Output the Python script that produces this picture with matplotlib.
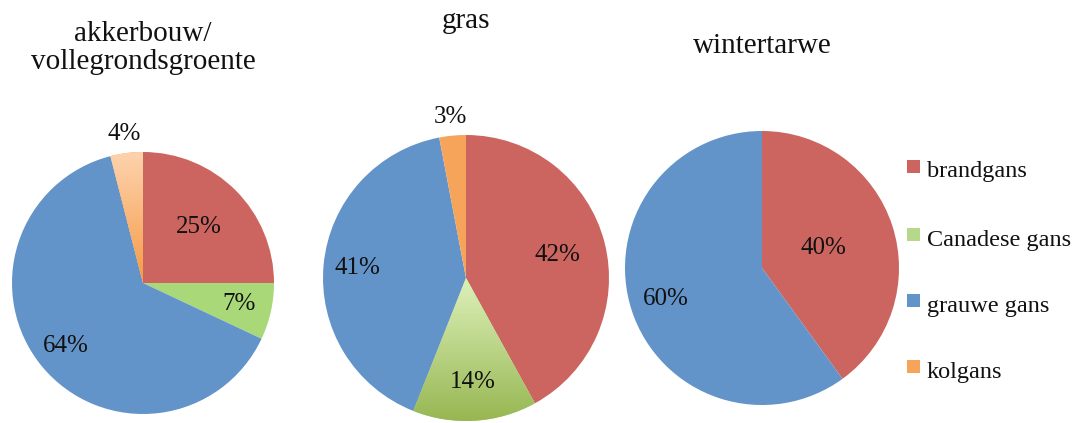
import matplotlib.pyplot as plt
import numpy as np
from matplotlib.colors import LinearSegmentedColormap
from matplotlib.patches import Rectangle

# data
soorten = ['brandgans', 'Canadese gans', 'grauwe gans', 'kolgans']
titels = ['akkerbouw/\nvollegrondsgroente', 'gras', 'wintertarwe']
akkerbouw = [25, 7, 64, 4]
gras = [42, 14, 41, 3]
wintertarwe = [40, 0, 60, 0]

kleuren = ['#CC6560', '#A9D878', '#6394C9', '#F6A45A']

W, H = 1082, 423
fig = plt.figure(figsize=(W / 100, H / 100), dpi=100)
plt.rcParams['font.family'] = ['Liberation Serif', 'DejaVu Serif']

# pie centre (px), radius (px), label distance per wedge, title y (px)
layout = [
    dict(c=(143, 283), r=131, ld=[0.6, 0.75, 0.76, 1.15], ty=48),
    dict(c=(466, 278), r=143, ld=[0.66, 0.73, 0.76, 1.13], ty=21),
    dict(c=(762, 268), r=137, ld=[0.47, 0.7, 0.74, 1.1], ty=46),
]
# gradient for wedges (top colour, bottom colour), keyed by (pie, wedge)
gradients = {(0, 3): ('#FDD3AE', '#F59A45'), (1, 1): ('#DDF1BA', '#97B752')}


def grad_fill(ax, wedge, top, bottom):
    cmap = LinearSegmentedColormap.from_list('g', [bottom, top])
    ext = wedge.get_path().get_extents(wedge.get_patch_transform())
    g = np.linspace(0, 1, 256).reshape(-1, 1)
    im = ax.imshow(g, cmap=cmap, origin='lower',
                   extent=[ext.x0, ext.x1, ext.y0, ext.y1],
                   aspect='auto', zorder=wedge.get_zorder() + 0.1)
    im.set_clip_path(wedge)


for i, (vals, titel, lay) in enumerate(zip([akkerbouw, gras, wintertarwe], titels, layout)):
    cx, cy = lay['c']
    r = lay['r']
    ax = fig.add_axes([(cx - r) / W, 1 - (cy + r) / H, 2 * r / W, 2 * r / H])
    wedges, _ = ax.pie(vals, colors=kleuren, startangle=90, counterclock=False,
                       radius=1, wedgeprops=dict(linewidth=0))
    total = sum(vals)
    for j, (w, v) in enumerate(zip(wedges, vals)):
        if v == 0:
            continue
        if (i, j) in gradients:
            grad_fill(ax, w, *gradients[(i, j)])
        ang = np.deg2rad((w.theta1 + w.theta2) / 2)
        d = lay['ld'][j]
        ax.text(d * np.cos(ang), d * np.sin(ang), f'{round(100 * v / total)}%',
                ha='center', va='center', fontsize=18, color='#111111',
                zorder=5, clip_on=False)
    ax.set_xlim(-1, 1)
    ax.set_ylim(-1, 1)
    ax.axis('off')
    fig.text(cx / W, 1 - lay['ty'] / H, titel, ha='center', va='center',
             fontsize=21, linespacing=1.1, color='#111111')

# legend
leg_y = [172, 240, 306, 372]
for j, (naam, y) in enumerate(zip(soorten, leg_y)):
    fig.patches.append(Rectangle((907 / W, 1 - (y + 1) / H), 13 / W, 13 / H,
                                 transform=fig.transFigure, figure=fig,
                                 facecolor=kleuren[j] if j != 1 else '#B5D88A',
                                 edgecolor='none'))
    fig.text(927 / W, 1 - y / H, naam, ha='left', va='center', fontsize=17.5,
             color='#111111')

fig.savefig('out.png', dpi=100)
